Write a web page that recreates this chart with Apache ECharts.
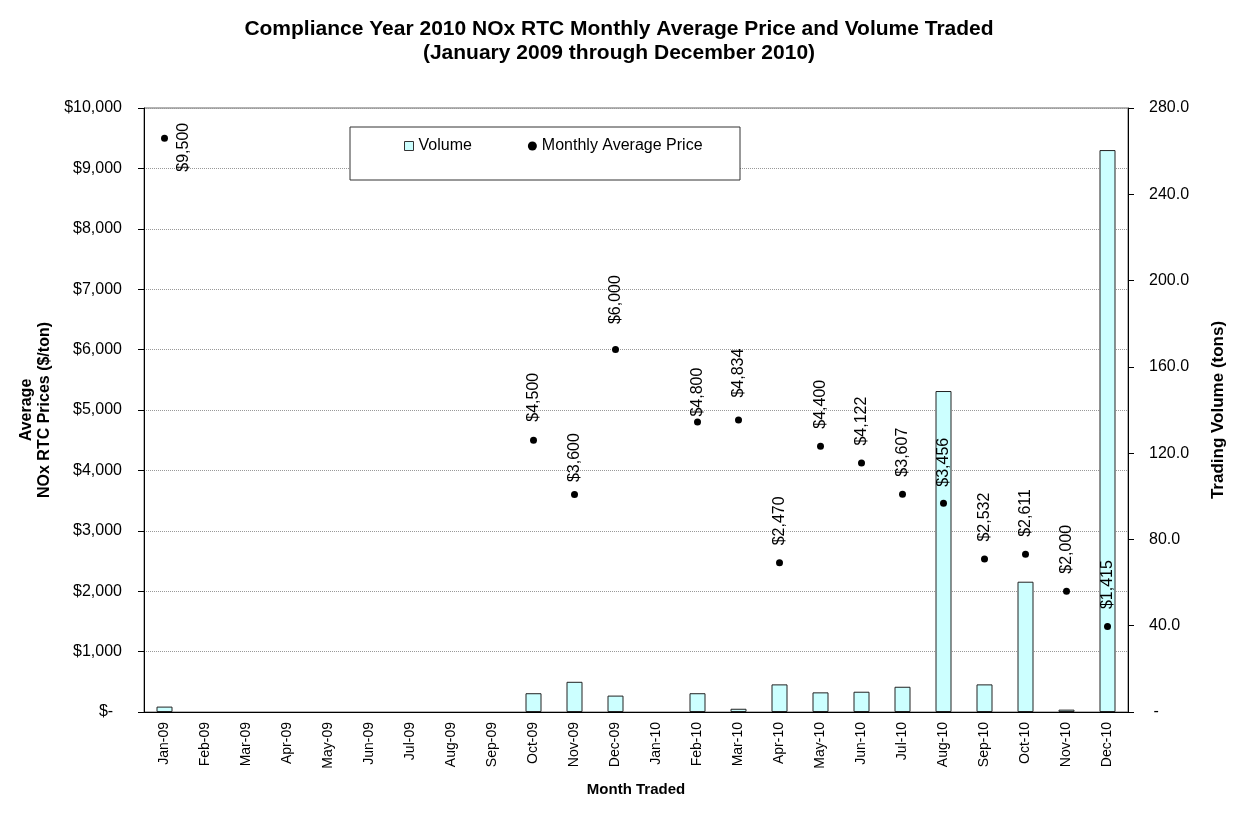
<!DOCTYPE html>
<html>
<head>
<meta charset="utf-8">
<title>NOx RTC Monthly Average Price and Volume</title>
<script src="https://cdn.jsdelivr.net/npm/echarts@6/dist/echarts.min.js"></script>
<style>
  html, body { margin: 0; padding: 0; background: #fff; }
  #chart { width: 1238px; height: 827px; }
</style>
</head>
<body>
<div id="chart"></div>
<script>
// month labels on the x axis
var months = ['Jan-09', 'Feb-09', 'Mar-09', 'Apr-09', 'May-09', 'Jun-09', 'Jul-09', 'Aug-09',
  'Sep-09', 'Oct-09', 'Nov-09', 'Dec-09', 'Jan-10', 'Feb-10', 'Mar-10', 'Apr-10', 'May-10',
  'Jun-10', 'Jul-10', 'Aug-10', 'Sep-10', 'Oct-10', 'Nov-10', 'Dec-10'];

// trading volume (tons), right axis
var volume = [2.5, null, null, null, null, null, null, null, null, 8.7, 14.0, 7.6,
  null, 8.7, 1.5, 12.8, 9.1, 9.4, 11.7, 148.8, 12.8, 60.4, 1.1, 260.5];

// monthly average price ($/ton), left axis
var price = [9500, null, null, null, null, null, null, null, null, 4500, 3600, 6000,
  null, 4800, 4834, 2470, 4400, 4122, 3607, 3456, 2532, 2611, 2000, 1415];

var priceTicks = [0, 1000, 2000, 3000, 4000, 5000, 6000, 7000, 8000, 9000, 10000];
var volumeTicks = [0, 40, 80, 120, 160, 200, 240, 280];

var font = "'Liberation Sans', Arial, sans-serif";

function money(v) {
    if (v === 0) return '$-  ';
    return '$' + v.toLocaleString('en-US');
}

// label gap above each dot (Excel placed some a bit higher or lower)
var labelGap = {9: 15, 10: 9, 11: 22, 13: 2, 14: 19, 19: 13};

var priceData = price.map(function (v, i) {
    if (v == null) return null;
    var item = {value: v, label: {distance: labelGap[i] != null ? labelGap[i] : 14}};
    if (i === 0) {
        // first point: label sits beside the dot, below the top edge
        item.label = {position: [23, 37]};
    }
    return item;
});

var myChart = echarts.init(document.getElementById('chart'));
myChart.setOption({
    animation: false,
    textStyle: {fontFamily: font, color: '#000'},
    title: {
        text: 'Compliance Year 2010 NOx RTC Monthly Average Price and Volume Traded\n(January 2009 through December 2010)',
        left: 'center',
        top: 12,
        textStyle: {fontFamily: font, fontSize: 21, fontWeight: 'bold', color: '#000', lineHeight: 24}
    },
    grid: {
        left: 144, right: 110, top: 108, bottom: 115,
        show: true, borderColor: '#666', borderWidth: 1
    },
    graphic: [{
        type: 'rect',
        shape: {x: 350, y: 127, width: 390, height: 53},
        style: {fill: '#fff', stroke: '#333', lineWidth: 1},
        z: 5
    }],
    legend: {
        left: 399, top: 133, z: 6,
        itemWidth: 9, itemHeight: 9, itemGap: 56,
        textStyle: {fontFamily: font, fontSize: 16, color: '#000'},
        data: [
            {name: 'Volume', icon: 'rect', itemStyle: {color: '#CCFFFF', borderColor: '#333', borderWidth: 1}},
            {name: 'Monthly Average Price', icon: 'circle', itemStyle: {color: '#000', opacity: 1}}
        ]
    },
    xAxis: {
        type: 'category',
        data: months,
        name: 'Month Traded',
        nameLocation: 'middle',
        nameGap: 70,
        nameTextStyle: {fontFamily: font, fontSize: 15, fontWeight: 'bold', color: '#000'},
        axisLine: {lineStyle: {color: '#000', width: 1}},
        axisTick: {interval: 1, length: 6, lineStyle: {color: '#000'}},
        axisLabel: {interval: 0, rotate: 90, fontSize: 14, color: '#000', margin: 10}
    },
    yAxis: [{
        type: 'value',
        min: priceTicks[0], max: priceTicks[priceTicks.length - 1], interval: 1000,
        name: 'Average\nNOx RTC Prices ($/ton)',
        nameLocation: 'middle',
        nameRotate: 90,
        nameGap: 89,
        nameTextStyle: {fontFamily: font, fontSize: 16, fontWeight: 'bold', color: '#000', lineHeight: 18},
        axisLine: {show: true, lineStyle: {color: '#000'}},
        axisTick: {show: true, length: 6, lineStyle: {color: '#000'}},
        axisLabel: {fontSize: 16, color: '#000', margin: 22, formatter: money},
        splitLine: {show: true, lineStyle: {color: '#999', type: 'dotted', width: 1}}
    }, {
        type: 'value',
        position: 'right',
        min: volumeTicks[0], max: volumeTicks[volumeTicks.length - 1], interval: 40,
        name: 'Trading Volume (tons)',
        nameLocation: 'middle',
        nameRotate: 90,
        nameGap: 82,
        nameTextStyle: {fontFamily: font, fontSize: 17, fontWeight: 'bold', color: '#000'},
        axisLine: {show: true, lineStyle: {color: '#000'}},
        axisTick: {show: true, length: 6, lineStyle: {color: '#000'}},
        axisLabel: {
            fontSize: 16, color: '#000', margin: 21,
            formatter: function (v) { return v === 0 ? ' -' : v.toFixed(1); }
        },
        splitLine: {show: false}
    }],
    series: [{
        name: 'Volume',
        type: 'bar',
        yAxisIndex: 1,
        barWidth: 16,
        data: volume,
        itemStyle: {color: '#CCFFFF', borderColor: '#222', borderWidth: 1}
    }, {
        name: 'Monthly Average Price',
        type: 'scatter',
        yAxisIndex: 0,
        symbol: 'circle',
        symbolSize: 7,
        data: priceData,
        itemStyle: {color: '#000', opacity: 1},
        label: {
            show: true,
            position: 'top',
            rotate: 90,
            align: 'left',
            verticalAlign: 'middle',
            fontFamily: font,
            fontSize: 16,
            color: '#000',
            formatter: function (p) { return money(p.value); }
        },
        z: 4
    }]
});
</script>
</body>
</html>
